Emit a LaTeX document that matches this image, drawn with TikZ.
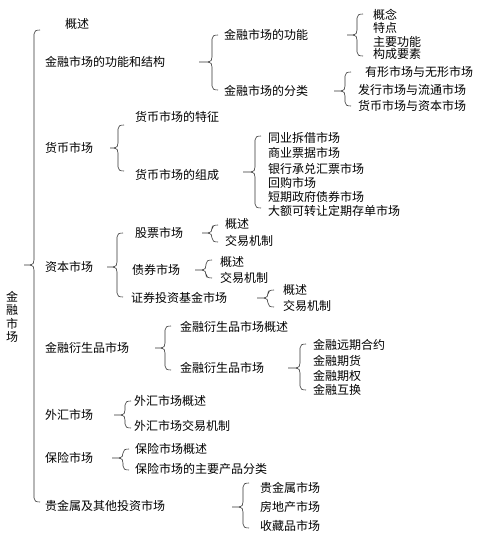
\documentclass[tikz,border=0pt]{standalone}
\usepackage{fontspec}
\setmainfont{Noto Sans CJK SC}
\begin{document}
\begin{tikzpicture}[x=1pt,y=-1pt,
  lbl/.style={anchor=west,inner sep=0pt,font=\fontsize{12}{12}\selectfont,text=black},
  brc/.style={draw=black!80,line width=0.6pt}]
\useasboundingbox[fill=white] (0,0) rectangle (485,545);
\newcommand\brc[5]{% tip x, vertical x, top y, mid y, bottom y
  \draw[brc] (#1,#4) -- ({#2-4},#4) .. controls ({#2-1},#4) and (#2,{#4-2}) .. (#2,{#4-5}) -- (#2,{#3+4}) .. controls (#2,{#3+1}) and ({#2+2},#3) .. ({#2+6},#3);
  \draw[brc] ({#2-4},#4) .. controls ({#2-1},#4) and (#2,{#4+2}) .. (#2,{#4+5}) -- (#2,{#5-4}) .. controls (#2,{#5-1}) and ({#2+2},#5) .. ({#2+6},#5);
}
% root
\node[inner sep=0pt,align=center,font=\fontsize{12}{13.5}\selectfont] (root) at (12,317) {金\\融\\市\\场};
\brc{24}{34}{30}{265}{502}
% level 2
\node[lbl] (a0) at (65,24) {概述};
\node[lbl] (a1) at (45,62) {金融市场的功能和结构};
\node[lbl] (a2) at (45,148) {货币市场};
\node[lbl] (a3) at (45,267) {资本市场};
\node[lbl] (a4) at (45,348) {金融衍生品市场};
\node[lbl] (a5) at (45,415) {外汇市场};
\node[lbl] (a6) at (45,458) {保险市场};
\node[lbl] (a7) at (45,506) {贵金属及其他投资市场};
% 金融市场的功能和结构
\brc{199}{212}{35}{62}{90}
\node[lbl] (b1) at (224,35) {金融市场的功能};
\node[lbl] (b2) at (224,91) {金融市场的分类};
\brc{347}{357}{14}{35}{56}
\node[lbl] (c1) at (373,15) {概念};
\node[lbl] (c2) at (373,28) {特点};
\node[lbl] (c3) at (373,42) {主要功能};
\node[lbl] (c4) at (373,54) {构成要素};
\brc{334}{345}{72}{91}{106}
\node[lbl] (d1) at (365,72) {有形市场与无形市场};
\node[lbl] (d2) at (358,90) {发行市场与流通市场};
\node[lbl] (d3) at (358,106) {货币市场与资本市场};
% 货币市场
\brc{110}{118}{125}{148}{171}
\node[lbl] (e1) at (135,117) {货币市场的特征};
\node[lbl] (e2) at (135,175) {货币市场的组成};
\brc{243}{255}{136}{172}{208}
\node[lbl] (f1) at (268,138) {同业拆借市场};
\node[lbl] (f2) at (268,153) {商业票据市场};
\node[lbl] (f3) at (268,169) {银行承兑汇票市场};
\node[lbl] (f4) at (268,183) {回购市场};
\node[lbl] (f5) at (268,197) {短期政府债券市场};
\node[lbl] (f6) at (268,211) {大额可转让定期存单市场};
% 资本市场
\brc{107}{117}{233}{267}{297}
\node[lbl] (g1) at (135,233) {股票市场};
\node[lbl] (g2) at (132,270) {债券市场};
\node[lbl] (g3) at (131,298) {证券投资基金市场};
\brc{202}{212}{225}{233}{242}
\node[lbl] (h1) at (225,224) {概述};
\node[lbl] (h2) at (225,241) {交易机制};
\brc{195}{206}{260}{270}{278}
\node[lbl] (i1) at (220,262) {概述};
\node[lbl] (i2) at (220,278) {交易机制};
\brc{257}{268}{290}{298}{307}
\node[lbl] (j1) at (283,290) {概述};
\node[lbl] (j2) at (283,306) {交易机制};
% 金融衍生品市场
\brc{155}{165}{326}{348}{370}
\node[lbl] (k1) at (180,327) {金融衍生品市场概述};
\node[lbl] (k2) at (180,368) {金融衍生品市场};
\brc{288}{300}{344}{368}{390}
\node[lbl] (l1) at (313,345) {金融远期合约};
\node[lbl] (l2) at (313,361) {金融期货};
\node[lbl] (l3) at (313,376) {金融期权};
\node[lbl] (l4) at (313,390) {金融互换};
% 外汇市场
\brc{114}{125}{401}{415}{428}
\node[lbl] (m1) at (134,401) {外汇市场概述};
\node[lbl] (m2) at (134,426) {外汇市场交易机制};
% 保险市场
\brc{112}{123}{449}{458}{470}
\node[lbl] (n1) at (135,449) {保险市场概述};
\node[lbl] (n2) at (135,469) {保险市场的主要产品分类};
% 贵金属
\brc{232}{243}{483}{507}{528}
\node[lbl] (o1) at (260,488) {贵金属市场};
\node[lbl] (o2) at (260,507) {房地产市场};
\node[lbl] (o3) at (260,526) {收藏品市场};
\end{tikzpicture}
\end{document}
